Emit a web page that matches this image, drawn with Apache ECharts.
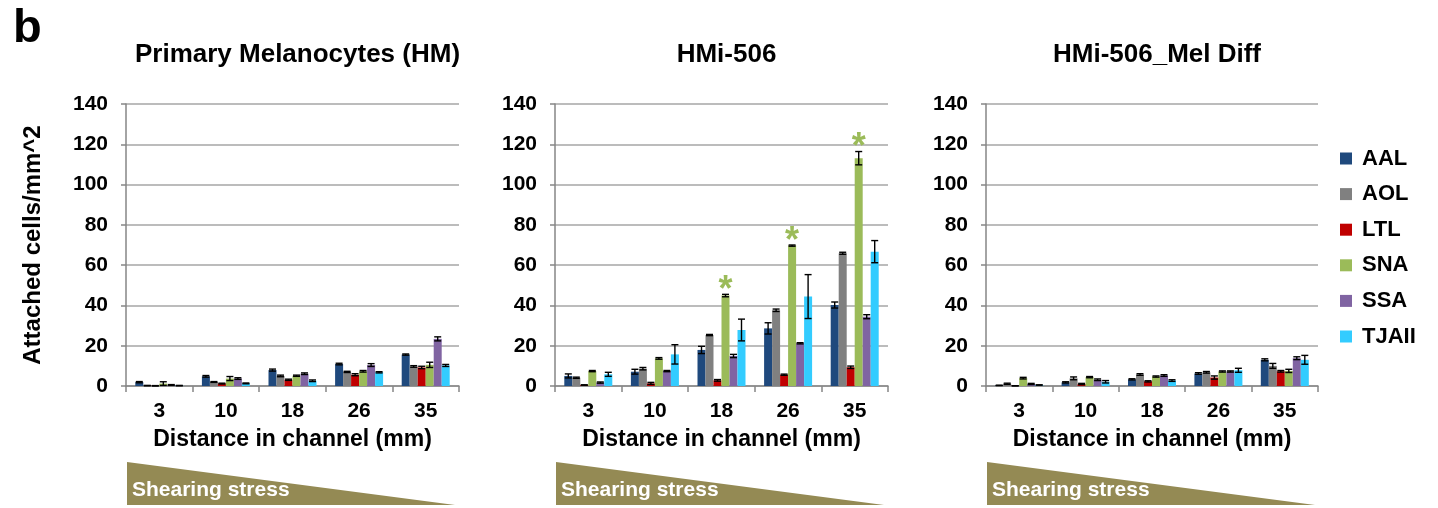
<!DOCTYPE html>
<html>
<head>
<meta charset="utf-8">
<script src="https://cdn.jsdelivr.net/npm/echarts@6/dist/echarts.min.js"></script>
<style>
html,body{margin:0;padding:0;background:#fff;}
#chart{width:1438px;height:508px;}
</style>
</head>
<body>
<div id="chart"></div>
<script>
// ---------- data ----------
const categories = ['3', '10', '18', '26', '35'];
const seriesNames = ['AAL', 'AOL', 'LTL', 'SNA', 'SSA', 'TJAII'];
const seriesColors = ['#1f497d', '#808080', '#c00000', '#9bbb59', '#8064a2', '#33ccff'];
const panelTitles = ['Primary Melanocytes (HM)', 'HMi-506', 'HMi-506_Mel Diff'];
const yTickValues = [0, 20, 40, 60, 80, 100, 120, 140];
const xAxisTitle = 'Distance in channel (mm)';
const yAxisTitle = 'Attached cells/mm^2';
const stressLabel = 'Shearing stress';

// rows follow seriesNames order, columns follow categories
const hmValues = [
  [1.9, 4.8, 7.9, 10.9, 15.6],
  [0.2, 2.0, 5.0, 7.0, 9.7],
  [0.1, 1.2, 3.1, 5.6, 9.2],
  [1.2, 3.7, 5.1, 7.3, 10.5],
  [0.5, 3.7, 6.1, 10.4, 23.4],
  [0.2, 1.3, 2.6, 6.8, 10.2]
];
const hmErrors = [
  [0.3, 0.4, 0.5, 0.4, 0.3],
  [0.1, 0.2, 0.4, 0.3, 0.4],
  [0.1, 0.2, 0.3, 0.5, 0.6],
  [0.9, 1.0, 0.3, 0.4, 1.3],
  [0.2, 0.4, 0.4, 0.7, 1.0],
  [0.1, 0.2, 0.4, 0.3, 0.5]
];
const hmiValues = [
  [5.0, 7.1, 17.9, 28.6, 40.2],
  [4.1, 8.6, 25.3, 37.6, 65.9],
  [0.5, 1.3, 2.8, 5.6, 9.3],
  [7.4, 13.7, 44.9, 69.7, 113.1],
  [1.7, 7.4, 14.9, 21.2, 34.4],
  [5.8, 15.7, 27.8, 44.4, 66.7]
];
const hmiErrors = [
  [1.0, 1.2, 1.8, 2.8, 1.5],
  [0.3, 0.6, 0.3, 0.6, 0.5],
  [0.1, 0.5, 0.4, 0.3, 0.6],
  [0.3, 0.4, 0.6, 0.3, 3.3],
  [0.3, 0.3, 0.8, 0.3, 1.0],
  [1.0, 4.8, 5.4, 10.9, 5.5]
];
const diffValues = [
  [0.3, 1.8, 3.3, 6.2, 13.0],
  [1.1, 3.8, 5.7, 6.8, 10.0],
  [0.1, 1.0, 2.3, 4.2, 7.3],
  [3.9, 4.4, 4.7, 7.2, 7.5],
  [1.0, 3.1, 5.2, 7.2, 13.8],
  [0.5, 2.1, 2.7, 7.8, 13.0]
];
const diffErrors = [
  [0.1, 0.3, 0.3, 0.4, 0.5],
  [0.3, 0.7, 0.4, 0.4, 1.2],
  [0.05, 0.3, 0.3, 0.8, 0.4],
  [0.4, 0.3, 0.3, 0.3, 0.8],
  [0.3, 0.4, 0.4, 0.3, 0.7],
  [0.1, 0.6, 0.4, 1.0, 2.2]
];
// significance stars: [panel, seriesIndex, categoryIndex]
const starMarks = [[1, 3, 2], [1, 3, 3], [1, 3, 4]];

// ---------- layout / style ----------
const FONT = "'Liberation Sans', Arial, sans-serif";
const panelValues = [hmValues, hmiValues, diffValues];
const panelErrors = [hmErrors, hmiErrors, diffErrors];
const grids = [
  {left: 126, top: 104, width: 333, height: 282},
  {left: 555, top: 104, width: 333, height: 282},
  {left: 986, top: 104, width: 332, height: 282}
];
const BW = 8;

const chart = echarts.init(document.getElementById('chart'));

const xAxes = [], yAxes = [], series = [];
grids.forEach((g, p) => {
  xAxes.push({
    type: 'category', gridIndex: p, data: categories,
    axisLine: {show: true, lineStyle: {color: '#868686', width: 1.5}},
    axisTick: {show: true, length: 6, interval: 0, lineStyle: {color: '#868686', width: 1.5}},
    axisLabel: {margin: 15, fontFamily: FONT, fontWeight: 'bold', fontSize: 21, color: '#000'},
    name: xAxisTitle, nameLocation: 'middle', nameGap: 42,
    nameTextStyle: {fontFamily: FONT, fontWeight: 'bold', fontSize: 23, color: '#000'}
  });
  const ya = {
    type: 'value', gridIndex: p, min: 0, max: 140, interval: 20,
    axisLine: {show: true, lineStyle: {color: '#868686', width: 1.5}},
    axisTick: {show: true, length: 5, lineStyle: {color: '#868686', width: 1.5}},
    splitLine: {show: true, lineStyle: {color: '#a6a6a6', width: 1.5}},
    axisLabel: {margin: 18, fontFamily: FONT, fontWeight: 'bold', fontSize: 21, color: '#000',
      formatter: v => yTickValues.indexOf(v) >= 0 ? String(v) : ''}
  };
  if (p === 0) {
    ya.name = yAxisTitle;
    ya.nameLocation = 'middle';
    ya.nameRotate = 90;
    ya.nameGap = 81;
    ya.nameTextStyle = {fontFamily: FONT, fontWeight: 'bold', fontSize: 24, color: '#000'};
  }
  yAxes.push(ya);

  seriesNames.forEach((name, s) => {
    series.push({
      name: name, type: 'bar', xAxisIndex: p, yAxisIndex: p,
      data: panelValues[p][s], barWidth: BW, barGap: '0%',
      itemStyle: {color: seriesColors[s]},
      emphasis: {disabled: true}, z: 2
    });
  });

  const errData = [];
  seriesNames.forEach((name, s) => {
    categories.forEach((c, ci) => {
      const star = starMarks.some(m => m[0] === p && m[1] === s && m[2] === ci) ? 1 : 0;
      errData.push([ci, s, panelValues[p][s][ci], panelErrors[p][s][ci], star]);
    });
  });
  series.push({
    type: 'custom', xAxisIndex: p, yAxisIndex: p, data: errData, z: 5, silent: true,
    renderItem: function (params, api) {
      const ci = api.value(0), s = api.value(1), v = api.value(2), e = api.value(3), star = api.value(4);
      const c = api.coord([ci, v]);
      const x = c[0] + (s - 2.5) * BW;
      const yT = api.coord([ci, v + e])[1];
      const yB = api.coord([ci, Math.max(0, v - e)])[1];
      const st = {stroke: '#000', lineWidth: 1.4};
      const hw = 3.5;
      const kids = [
        {type: 'line', shape: {x1: x, y1: yT, x2: x, y2: yB}, style: st},
        {type: 'line', shape: {x1: x - hw, y1: yT, x2: x + hw, y2: yT}, style: st},
        {type: 'line', shape: {x1: x - hw, y1: yB, x2: x + hw, y2: yB}, style: st}
      ];
      if (star) {
        kids.push({type: 'text', style: {text: '*', x: x, y: yT - 3, align: 'center', verticalAlign: 'middle',
          font: 'bold 36px ' + FONT, fill: '#9bbb59'}});
      }
      return {type: 'group', children: kids};
    }
  });
});

// titles
const titles = [{text: 'b', left: 8, top: 1, textStyle: {fontFamily: FONT, fontWeight: 'bold', fontSize: 47, color: '#000'}}];
grids.forEach((g, p) => {
  titles.push({text: panelTitles[p], left: g.left + g.width / 2, top: 37, textAlign: 'center',
    textStyle: {fontFamily: FONT, fontWeight: 'bold', fontSize: 26, color: '#000'}});
});

// shearing-stress wedges
const graphics = [];
grids.forEach((g, p) => {
  const x0 = g.left + 1;
  graphics.push({type: 'polygon', silent: true, z: 0,
    shape: {points: [[x0, 462], [x0 + 328, 505], [x0, 505]]},
    style: {fill: '#948a54'}});
  graphics.push({type: 'text', silent: true, z: 1, left: x0 + 5, top: 480,
    style: {text: stressLabel, font: 'bold 21px ' + FONT, fill: '#fff'}});
});

chart.setOption({
  animation: false,
  backgroundColor: '#fff',
  title: titles,
  grid: grids,
  xAxis: xAxes,
  yAxis: yAxes,
  legend: {
    data: seriesNames, orient: 'vertical', left: 1340, top: 147, padding: 0,
    icon: 'rect', itemWidth: 12, itemHeight: 12, itemGap: 12.6,
    textStyle: {fontFamily: FONT, fontWeight: 'bold', fontSize: 22, color: '#000', lineHeight: 23, padding: [0, 0, 0, 5]}
  },
  graphic: graphics,
  series: series
});
</script>
</body>
</html>
